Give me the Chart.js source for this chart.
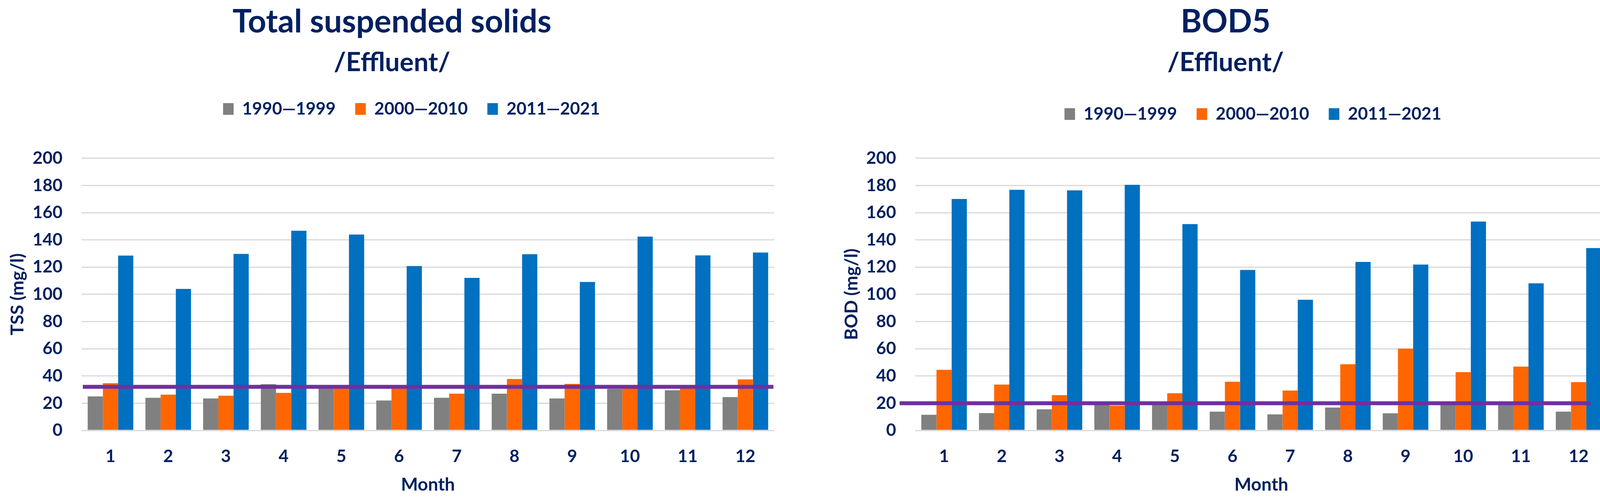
<!DOCTYPE html>
<html><head><meta charset="utf-8">
<script src="https://cdn.jsdelivr.net/npm/chart.js@4.4.1/dist/chart.umd.min.js"></script>
<style>
html,body{margin:0;padding:0;background:#fff;width:4148px;height:1279px;overflow:hidden;}
canvas{position:absolute;top:0;}
#c1{left:25px;} #c2{left:2160px;}
</style></head><body>
<canvas id="c1" width="1957" height="1279"></canvas>
<canvas id="c2" width="1955" height="1279"></canvas>
<script>
// ---- data ----
const months = ['1','2','3','4','5','6','7','8','9','10','11','12'];
const seriesNames = ['1990\u20141999','2000\u20142010','2011\u20142021'];
const tss1990 = [25, 24, 23.5, 34, 31, 22, 24, 27, 23.5, 30.5, 29.5, 24.5];
const tss2000 = [34.7, 26.3, 25.5, 27.6, 31.5, 31.5, 27, 37.8, 34.2, 31.5, 31.5, 37.5];
const tss2011 = [128.5, 104, 129.7, 146.7, 143.9, 120.8, 112.1, 129.5, 109.1, 142.4, 128.6, 130.7];
const tssLimit = 32;
const bod1990 = [11.5, 12.7, 15.5, 20, 20, 13.8, 11.8, 16.8, 12.6, 20, 20, 13.8];
const bod2000 = [44.5, 33.7, 25.9, 18.2, 27.3, 35.8, 29.3, 48.6, 60.1, 42.8, 46.9, 35.5];
const bod2011 = [170.1, 176.8, 176.4, 180.5, 151.6, 117.9, 96.0, 123.8, 121.9, 153.5, 108.1, 134.0];
const bodLimit = 20;
const yTicksMin = 0, yTicksMax = 200, yTicksStep = 20;

// ---- style ----
const NAVY = '#002060';
const COLORS = ['#808080', '#FF6600', '#0070C0'];
const LIMIT_COLOR = '#7030A0';
Chart.defaults.font.family = 'Lato, "Open Sans", sans-serif';
Chart.defaults.font.weight = 'bold';
Chart.defaults.color = NAVY;

const limitLinePlugin = {
  id: 'limitLine',
  afterDatasetsDraw(chart, args, opts) {
    const ctx = chart.ctx;
    const y = chart.scales.y.getPixelForValue(opts.value);
    const {left, right} = chart.chartArea;
    ctx.save();
    ctx.strokeStyle = opts.color;
    ctx.lineWidth = opts.width;
    ctx.beginPath();
    ctx.moveTo(left + opts.startOffset, y);
    ctx.lineTo(right + opts.endOffset, y);
    ctx.stroke();
    ctx.restore();
  }
};

const legendShiftPlugin = {
  id: 'legendShift',
  afterLayout(chart, args, opts) {
    if (chart.legend && opts.offset) {
      chart.legend.left += opts.offset;
      chart.legend.right += opts.offset;
    }
  }
};

function makeChart(id, title, yTitle, s1, s2, s3, limit, cfg) {
  const datasets = [s1, s2, s3].map((d, i) => ({
    label: seriesNames[i], data: d, backgroundColor: COLORS[i], borderWidth: 0,
    xAxisID: 'x', yAxisID: 'y', categoryPercentage: 0.79, barPercentage: 1.0
  }));
  return new Chart(document.getElementById(id), {
    type: 'bar',
    data: { labels: months, datasets },
    plugins: [limitLinePlugin, legendShiftPlugin],
    options: {
      responsive: false, animation: false, devicePixelRatio: 1,
      layout: { padding: { top: 0, left: 0, right: 0, bottom: 11 } },
      plugins: {
        tooltip: { enabled: false },
        title: { display: true, text: title, color: NAVY,
          font: { size: 82, weight: 'bold', lineHeight: 1.2 }, padding: { top: 7, bottom: 0 } },
        subtitle: { display: true, text: '/Effluent/', color: NAVY,
          font: { size: 67, weight: 'bold', lineHeight: 1.2 }, padding: { top: 15, bottom: cfg.subPadBottom } },
        legend: { display: true, position: 'top',
          labels: { color: NAVY, font: { size: 44, weight: 'bold' }, boxWidth: 27, boxHeight: 30, padding: 50 } },
        legendShift: { offset: cfg.legendShift },
        limitLine: { value: limit, color: LIMIT_COLOR, width: 10, startOffset: cfg.lineStart, endOffset: cfg.lineEnd }
      },
      scales: {
        x: { type: 'category', position: 'bottom',
          grid: { display: false, drawTicks: false }, border: { display: false },
          ticks: { color: NAVY, font: { size: 44, weight: 'bold', lineHeight: 1.2 }, padding: 40 },
          title: { display: true, text: 'Month', color: NAVY, font: { size: 46, weight: 'bold', lineHeight: 1.2 }, padding: { top: -21, bottom: 0 } } },
        xTop: { type: 'category', axis: 'x', position: 'top', display: true,
          grid: { display: false, drawTicks: false }, border: { display: false },
          ticks: { display: false }, afterFit: s => { s.height = cfg.topGap; } },
        y: { min: yTicksMin, max: yTicksMax,
          ticks: { stepSize: yTicksStep, color: NAVY, font: { size: 44, weight: 'bold' }, padding: 49 },
          grid: { color: '#D9D9D9', lineWidth: 3, drawTicks: false }, border: { display: false },
          title: { display: true, text: yTitle, color: NAVY, font: { size: 46, weight: 'bold', lineHeight: 1 }, padding: { top: -3, bottom: 0 } },
          afterFit: s => { s.width = cfg.yWidth; } }
      }
    }
  });
}

makeChart('c1', 'Total suspended solids', 'TSS (mg/l)', tss1990, tss2000, tss2011, tssLimit,
  { subPadBottom: 6, topGap: 94, yWidth: 184, lineStart: 3, lineEnd: -2, legendShift: 50 });
makeChart('c2', 'BOD5', 'BOD (mg/l)', bod1990, bod2000, bod2011, bodLimit,
  { subPadBottom: 19, topGap: 81, yWidth: 183, lineStart: -40, lineEnd: -43, legendShift: 70 });
</script>
</body></html>
